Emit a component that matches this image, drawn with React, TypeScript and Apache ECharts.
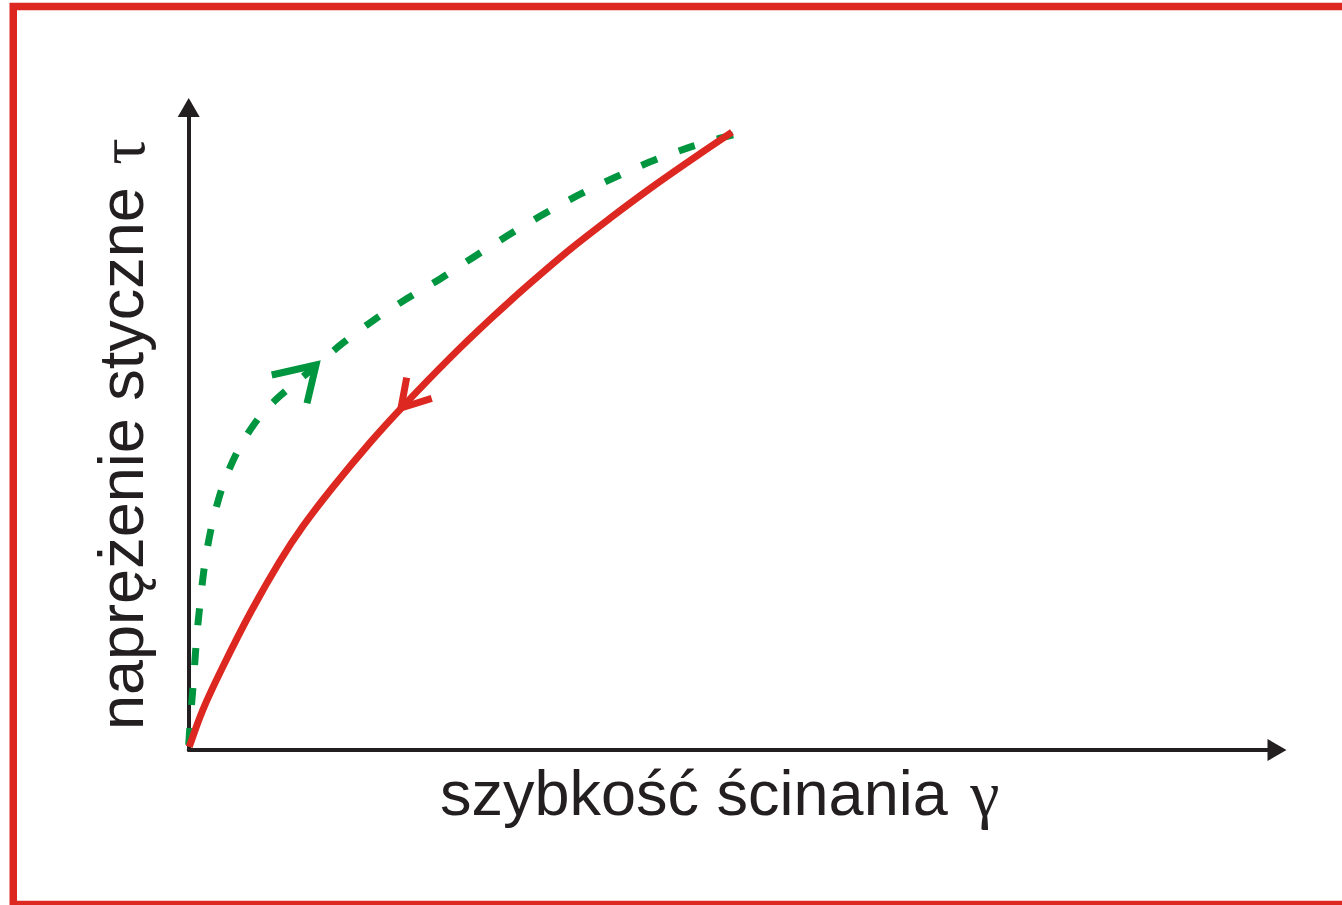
import React, { useEffect, useRef } from "react";
import * as echarts from "echarts";

// Data (axis units: 0..100 on both axes)
const redX = [0.05, 1.31, 3.15, 5.63, 8.39, 10.51, 13.26, 16.66, 19.69, 24.01, 27.68, 31.36, 35.03, 38.71, 42.38, 46.06, 49.92];
const redY = [0.47, 6.3, 13.0, 21.25, 29.42, 34.86, 40.93, 47.84, 53.49, 61.03, 67.0, 72.61, 77.9, 82.75, 87.36, 91.72, 96.17];

const greenX = [0.0, 0.18, 0.46, 0.73, 1.1, 1.56, 2.29, 3.3, 4.77, 6.61, 8.44, 11.2, 14.13, 16.98, 20.1, 23.13, 26.16, 29.28, 32.31, 35.7, 39.01, 42.4, 45.8, 47.91, 50.02];
const greenY = [0.8, 5.3, 11.22, 17.46, 23.69, 29.93, 36.17, 41.93, 47.39, 52.07, 55.18, 59.08, 63.29, 66.88, 70.3, 73.35, 76.7, 80.03, 83.11, 86.27, 89.01, 91.55, 93.68, 94.79, 95.75];

// direction chevrons
const greenArrowX = [7.63, 11.7, 10.87];
const greenArrowY = [58.37, 59.92, 53.96];
const redArrowX = [20.03, 19.51, 22.33];
const redArrowY = [57.95, 53.23, 54.74];

const xLabel = "szybkość ścinania ";
const xGreek = "γ";
const yLabel = "naprężenie styczne ";
const yGreek = "τ";

const RED = "#dc2820";
const GREEN = "#00953f";
const INK = "#231f20";

const zip = (xs: number[], ys: number[]) => xs.map((x, i) => [x, ys[i]]);

export default function App() {
  const ref = useRef<HTMLDivElement>(null);
  useEffect(() => {
    if (!ref.current) return;
    const chart = echarts.init(ref.current, undefined, { renderer: "svg" });
    const axisCommon = {
      type: "value" as const,
      min: 0,
      max: 100,
      axisLine: {
        show: true,
        symbol: ["none", "triangle"],
        symbolSize: [22, 19],
        lineStyle: { color: INK, width: 4 },
      },
      axisTick: { show: false },
      axisLabel: { show: false },
      splitLine: { show: false },
    };
    const rich = {
      a: { fontFamily: "Liberation Sans, Arial, sans-serif", fontSize: 63, fill: INK },
      g: {
        fontFamily: "Liberation Serif, Times New Roman, serif",
        fontSize: 66,
        fill: INK,
        padding: [0, 0, 0, 5],
      },
    };
    chart.setOption({
      animation: false,
      backgroundColor: "#ffffff",
      grid: { left: 188.7, top: 107.5, right: 65, bottom: 155 },
      xAxis: axisCommon,
      yAxis: axisCommon,
      series: [
        {
          type: "line",
          data: zip(greenX, greenY),
          showSymbol: false,
          symbol: "none",
          smooth: 0.3,
          lineStyle: { color: GREEN, width: 7, type: [17, 23], cap: "butt" },
          z: 2,
        },
        {
          type: "line",
          data: zip(greenArrowX, greenArrowY),
          showSymbol: false,
          symbol: "none",
          lineStyle: { color: GREEN, width: 7, join: "miter" },
          z: 3,
        },
        {
          type: "line",
          data: zip(redX, redY),
          showSymbol: false,
          symbol: "none",
          smooth: 0.35,
          lineStyle: { color: RED, width: 7, join: "round" },
          z: 4,
        },
        {
          type: "line",
          data: zip(redArrowX, redArrowY),
          showSymbol: false,
          symbol: "none",
          lineStyle: { color: RED, width: 7, join: "miter" },
          z: 5,
        },
      ],
      graphic: [
        {
          type: "rect",
          silent: true,
          shape: { x: 13.25, y: 6.5, width: 1340, height: 898 },
          style: { fill: "none", stroke: RED, lineWidth: 7.5 },
        },
        {
          type: "text",
          x: 440,
          y: 793,
          silent: true,
          style: {
            text: `{a|${xLabel}}{g|${xGreek}}`,
            rich,
            align: "left",
            textAlign: "left",
            verticalAlign: "middle",
            textVerticalAlign: "middle",
          },
        },
        {
          type: "text",
          x: 121,
          y: 730,
          rotation: Math.PI / 2,
          silent: true,
          style: {
            text: `{a|${yLabel}}{g|${yGreek}}`,
            rich,
            align: "left",
            textAlign: "left",
            verticalAlign: "middle",
            textVerticalAlign: "middle",
          },
        },
      ],
    });
    return () => chart.dispose();
  }, []);
  return (
    <div
      ref={ref}
      style={{ position: "fixed", left: 0, top: 0, width: 1342, height: 905 }}
    />
  );
}
